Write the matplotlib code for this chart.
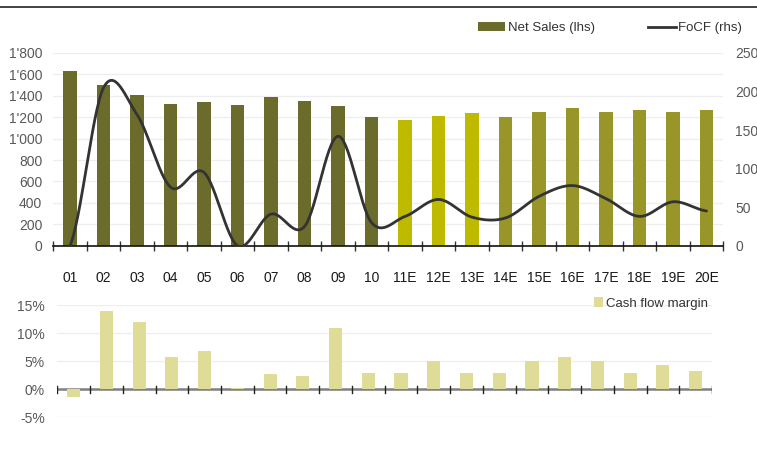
import numpy as np
import matplotlib
matplotlib.use("Agg")
import matplotlib.pyplot as plt
from matplotlib.patches import Patch
from matplotlib.lines import Line2D
from matplotlib.ticker import FuncFormatter

plt.rcParams['font.family'] = ['Liberation Sans', 'DejaVu Sans']

categories = ["01", "02", "03", "04", "05", "06", "07", "08", "09", "10",
              "11E", "12E", "13E", "14E", "15E", "16E", "17E", "18E", "19E", "20E"]
net_sales = [1630, 1500, 1410, 1325, 1345, 1315, 1390, 1355, 1305, 1200,
             1175, 1215, 1240, 1205, 1250, 1290, 1250, 1270, 1250, 1270]
focf = [0, 205, 170, 76, 95, 0, 41, 25, 142, 30,
        38, 60, 37, 36, 64, 78, 61, 38, 57, 45]
cf_margin = [-1.4, 14.0, 12.0, 5.85, 6.9, 0.15, 2.8, 2.3, 10.9, 3.0,
             3.0, 5.0, 3.0, 3.0, 5.0, 5.85, 5.0, 3.0, 4.4, 3.35]
left_ticks = [0, 200, 400, 600, 800, 1000, 1200, 1400, 1600, 1800]
right_ticks = [0, 50, 100, 150, 200, 250]
margin_ticks = [-5, 0, 5, 10, 15]

c_hist = "#6B6B2B"
c_near = "#BEBA00"
c_far = "#989628"
c_pale = "#DFDC98"
bar_colors = [c_hist] * 10 + [c_near] * 3 + [c_far] * 7

def catmull_rom(xs, ys, n=30):
    xs = np.asarray(xs, float); ys = np.asarray(ys, float)
    px = np.concatenate([[2 * xs[0] - xs[1]], xs, [2 * xs[-1] - xs[-2]]])
    py = np.concatenate([[ys[0]], ys, [ys[-1]]])
    outx, outy = [], []
    for i in range(1, len(px) - 2):
        t = np.linspace(0, 1, n, endpoint=False)
        for arr, out in ((px, outx), (py, outy)):
            p0, p1, p2, p3 = arr[i - 1], arr[i], arr[i + 1], arr[i + 2]
            m1 = (p2 - p0) / 2; m2 = (p3 - p1) / 2
            h00 = 2 * t**3 - 3 * t**2 + 1; h10 = t**3 - 2 * t**2 + t
            h01 = -2 * t**3 + 3 * t**2; h11 = t**3 - t**2
            out.extend(h00 * p1 + h10 * m1 + h01 * p2 + h11 * m2)
    outx.append(xs[-1]); outy.append(ys[-1])
    return np.array(outx), np.array(outy)

W, H = 757, 463
fig = plt.figure(figsize=(W / 100, H / 100), dpi=100)
x = np.arange(len(categories))

# top rule
fig.add_artist(Line2D([0, 1], [1 - 7.3 / H, 1 - 7.3 / H], color="#222222", lw=1.2,
                      transform=fig.transFigure))

# ---------- top chart ----------
ax = fig.add_axes([53.3 / W, 217.3 / H, 670 / W, 192.7 / H])
ax.bar(x, net_sales, width=0.4, color=bar_colors, zorder=2)
ax.set_xlim(-0.5, len(categories) - 0.5)
ax.set_ylim(0, 1800)
ax.set_yticks(left_ticks)
ax.yaxis.set_major_formatter(FuncFormatter(lambda v, p: f"{int(v):,}".replace(",", "'")))
ax.grid(axis="y", color="#EEEEEE", lw=0.9, zorder=0)
for s in ("top", "left", "right"):
    ax.spines[s].set_visible(False)
ax.spines["bottom"].set_color("#111111")
ax.spines["bottom"].set_linewidth(1.2)
ax.set_xticks(x)
ax.set_xticklabels(categories)
ax.set_xticks(np.arange(-0.5, len(categories), 1.0), minor=True)
ax.tick_params(axis="x", which="major", length=0, pad=18, labelsize=10, labelcolor="#1a1a1a")
ax.tick_params(axis="x", which="minor", length=7, direction="inout", color="#333333", width=1)
ax.tick_params(axis="y", length=0, pad=8, labelsize=10, labelcolor="#595959")

ax2 = ax.twinx()
sx, sy = catmull_rom(x, focf)
ax2.plot(sx, sy, color="#333333", lw=2.0, zorder=3, solid_capstyle="round")
ax2.set_ylim(0, 250)
ax2.set_yticks(right_ticks)
for s in ("top", "left", "right", "bottom"):
    ax2.spines[s].set_visible(False)
ax2.tick_params(axis="y", length=0, pad=8.5, labelsize=10, labelcolor="#595959")

fs_leg = 9.5
em = fs_leg * 100 / 72
leg1 = fig.legend([Patch(facecolor=c_hist, edgecolor="none")], ["Net Sales (lhs)"],
                  loc="center left", bbox_to_anchor=(477.5 / W, 1 - 28.3 / H),
                  frameon=False, fontsize=fs_leg, labelcolor="#333333",
                  handlelength=27 / em, handleheight=8 / em, handletextpad=3 / em,
                  borderaxespad=0, borderpad=0)
leg2 = fig.legend([Line2D([0], [0], color="#333333", lw=2.0)], ["FoCF (rhs)"],
                  loc="center left", bbox_to_anchor=(647.5 / W, 1 - 28.3 / H),
                  frameon=False, fontsize=fs_leg, labelcolor="#333333",
                  handlelength=28 / em, handletextpad=3 / em,
                  borderaxespad=0, borderpad=0)

# ---------- bottom chart ----------
bx = fig.add_axes([57.3 / W, 45.7 / H, 654.7 / W, 112 / H])
bx.bar(x, cf_margin, width=0.4, color=c_pale, zorder=4)
bx.set_xlim(-0.5, len(categories) - 0.5)
bx.set_ylim(-5, 15)
bx.set_yticks(margin_ticks)
bx.yaxis.set_major_formatter(FuncFormatter(lambda v, p: f"{int(v)}%"))
bx.grid(axis="y", color="#EEEEEE", lw=0.9, zorder=0)
for s in ("top", "left", "right", "bottom"):
    bx.spines[s].set_visible(False)
bx.axhline(0, color="#808080", lw=1.8, zorder=3)
for xb in np.arange(-0.5, len(categories), 1.0):
    bx.plot([xb, xb], [-0.65, 0.65], color="#222222", lw=1, zorder=5)
bx.set_xticks([])
bx.tick_params(axis="y", length=0, pad=9, labelsize=10, labelcolor="#595959")
bx.legend([Patch(facecolor=c_pale, edgecolor="none")], ["Cash flow margin"],
          loc="center left", bbox_to_anchor=(594 / W, 1 - 303.5 / H),
          bbox_transform=fig.transFigure, frameon=False, fontsize=fs_leg,
          labelcolor="#333333", handlelength=9 / em, handleheight=9 / em,
          handletextpad=3 / em, borderaxespad=0, borderpad=0)

fig.savefig("out.png", dpi=100)
